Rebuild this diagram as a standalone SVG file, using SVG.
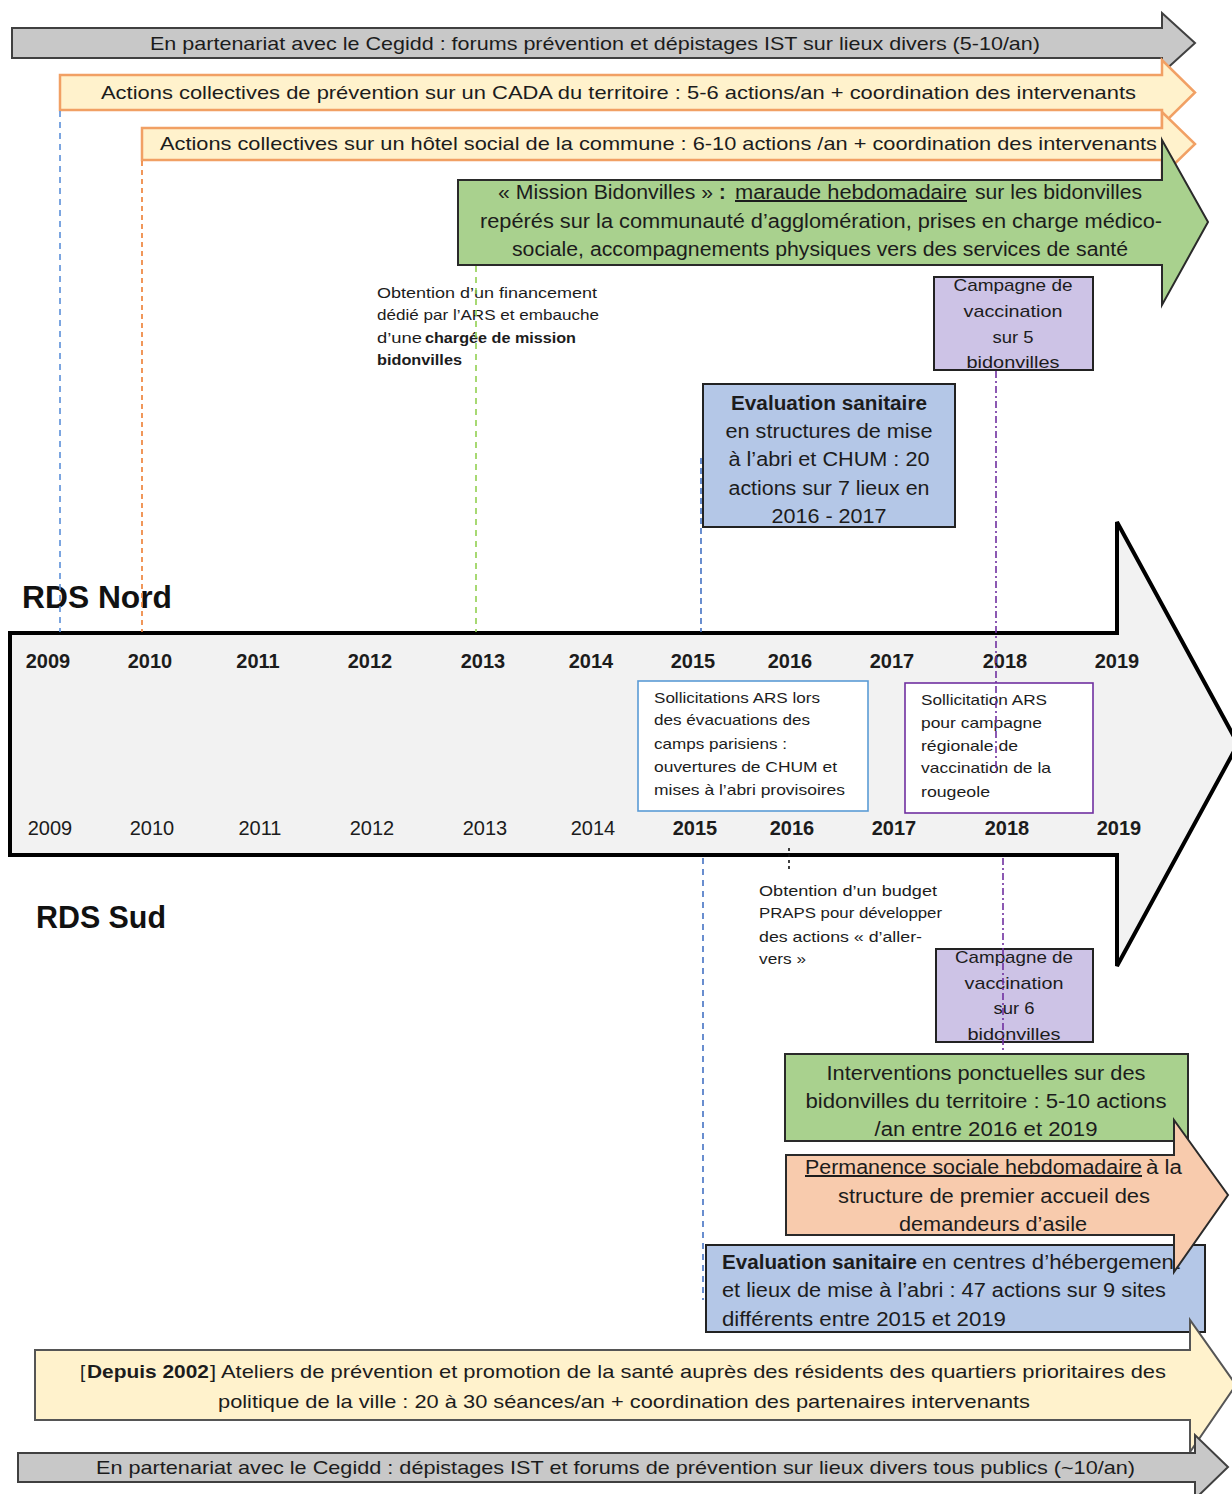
<svg xmlns="http://www.w3.org/2000/svg" width="1232" height="1494" viewBox="0 0 1232 1494">
<style>
text{font-family:"Liberation Sans",Arial,sans-serif;fill:#1c1c1c}
.s19{font-size:19px}
.s20{font-size:20px}
.s17{font-size:17px}
.s15{font-size:15px}
.b{font-weight:bold}
.u{text-decoration:underline}
.big{font-size:31px;font-weight:bold;fill:#111}
.yr{font-size:20px;text-anchor:middle}
.gray{fill:#c8c8c8;stroke:#404040;stroke-width:2}
.cream{fill:#fff2cc;stroke:#f1a064;stroke-width:2.5}
.green{fill:#a9d18e;stroke:#2a2a2a;stroke-width:2}
.purple{fill:#cdc3e6;stroke:#222;stroke-width:2}
.blue{fill:#b4c7e7;stroke:#222;stroke-width:2}
.peach{fill:#f8cbad;stroke:#2a2a2a;stroke-width:2}
.yellow{fill:#fff2cc;stroke:#555;stroke-width:2}
.dl{fill:none;stroke-width:1.6}
</style>

<g id="node-cegidd-nord">
<path class="gray" d="M12,28 H1162 V13 L1195,43 L1162,73 V58 H12 Z"/>
<text class="s19" x="150" y="49.5" textLength="890" lengthAdjust="spacingAndGlyphs">En partenariat avec le Cegidd : forums prévention et dépistages IST sur lieux divers (5-10/an)</text>
</g>

<g id="node-cada">
<path class="cream" d="M60,75 H1162 V60 L1195,92.5 L1162,125 V110 H60 Z"/>
<text class="s19" x="101" y="99" textLength="1035" lengthAdjust="spacingAndGlyphs">Actions collectives de prévention sur un CADA du territoire : 5-6 actions/an + coordination des intervenants</text>
</g>

<g id="node-hotel">
<path class="cream" d="M142,128 H1162 V112 L1195,144 L1162,176 V160 H142 Z"/>
<text class="s19" x="160" y="150" textLength="997" lengthAdjust="spacingAndGlyphs">Actions collectives sur un hôtel social de la commune : 6-10 actions /an + coordination des intervenants</text>
</g>

<g id="node-mission-bidonvilles">
<path class="green" d="M458,180 H1162 V140 L1208,222 L1162,305 V265 H458 Z"/>
<text class="s20" y="199"><tspan x="498" textLength="215" lengthAdjust="spacingAndGlyphs">« Mission Bidonvilles »</tspan><tspan x="719" class="b">:</tspan><tspan x="735" class="u" textLength="232" lengthAdjust="spacingAndGlyphs">maraude hebdomadaire</tspan><tspan x="975" textLength="167" lengthAdjust="spacingAndGlyphs">sur les bidonvilles</tspan></text>
<text class="s20" x="480" y="228" textLength="682" lengthAdjust="spacingAndGlyphs">repérés sur la communauté d’agglomération, prises en charge médico-</text>
<text class="s20" x="512" y="256" textLength="616" lengthAdjust="spacingAndGlyphs">sociale, accompagnements physiques vers des services de santé</text>
</g>

<g id="node-financement-ars">
<text class="s15" x="377" y="298" textLength="220" lengthAdjust="spacingAndGlyphs">Obtention d’un financement</text>
<text class="s15" x="377" y="320" textLength="222" lengthAdjust="spacingAndGlyphs">dédié par l’ARS et embauche</text>
<text class="s15" y="343"><tspan x="377" textLength="45" lengthAdjust="spacingAndGlyphs">d’une</tspan><tspan x="425" class="b" textLength="151" lengthAdjust="spacingAndGlyphs">chargée de mission</tspan></text>
<text class="s15 b" x="377" y="365" textLength="85" lengthAdjust="spacingAndGlyphs">bidonvilles</text>
</g>

<g id="node-vaccination-nord">
<rect class="purple" x="934" y="277" width="159" height="93"/>
<g class="s17" text-anchor="middle">
<text x="1013" y="291" textLength="119" lengthAdjust="spacingAndGlyphs">Campagne de</text>
<text x="1013" y="317" textLength="99" lengthAdjust="spacingAndGlyphs">vaccination</text>
<text x="1013" y="343" textLength="41" lengthAdjust="spacingAndGlyphs">sur 5</text>
<text x="1013" y="368" textLength="93" lengthAdjust="spacingAndGlyphs">bidonvilles</text>
</g>
</g>

<g id="node-evaluation-nord">
<rect class="blue" x="703" y="384" width="252" height="143"/>
<g class="s20" text-anchor="middle">
<text x="829" y="410" class="b" textLength="196" lengthAdjust="spacingAndGlyphs">Evaluation sanitaire</text>
<text x="829" y="438" textLength="207" lengthAdjust="spacingAndGlyphs">en structures de mise</text>
<text x="829" y="466" textLength="201" lengthAdjust="spacingAndGlyphs">à l’abri et CHUM : 20</text>
<text x="829" y="495" textLength="201" lengthAdjust="spacingAndGlyphs">actions sur 7 lieux en</text>
<text x="829" y="523" textLength="115" lengthAdjust="spacingAndGlyphs">2016 - 2017</text>
</g>
</g>

<g id="label-rds-nord">
<text class="big" x="22" y="608" textLength="150" lengthAdjust="spacingAndGlyphs">RDS Nord</text>
</g>

<g id="node-timeline">
<path d="M10,633 H1117 V522 L1238,744 L1117,966 V855 H10 Z" fill="#f2f2f2" stroke="#000" stroke-width="4" stroke-linejoin="miter"/>
<g class="yr b">
<text x="48" y="668">2009</text><text x="150" y="668">2010</text><text x="258" y="668">2011</text><text x="370" y="668">2012</text><text x="483" y="668">2013</text><text x="591" y="668">2014</text><text x="693" y="668">2015</text><text x="790" y="668">2016</text><text x="892" y="668">2017</text><text x="1005" y="668">2018</text><text x="1117" y="668">2019</text>
</g>
<g class="yr">
<text x="50" y="835">2009</text><text x="152" y="835">2010</text><text x="260" y="835">2011</text><text x="372" y="835">2012</text><text x="485" y="835">2013</text><text x="593" y="835">2014</text>
</g>
<g class="yr b">
<text x="695" y="835">2015</text><text x="792" y="835">2016</text><text x="894" y="835">2017</text><text x="1007" y="835">2018</text><text x="1119" y="835">2019</text>
</g>
</g>

<g id="node-sollicitations-camps">
<rect x="638" y="681" width="230" height="130" fill="#fff" stroke="#5b9bd5" stroke-width="1.6"/>
<g class="s15">
<text x="654" y="703" textLength="166" lengthAdjust="spacingAndGlyphs">Sollicitations ARS lors</text>
<text x="654" y="725" textLength="156" lengthAdjust="spacingAndGlyphs">des évacuations des</text>
<text x="654" y="749" textLength="133" lengthAdjust="spacingAndGlyphs">camps parisiens :</text>
<text x="654" y="772" textLength="183" lengthAdjust="spacingAndGlyphs">ouvertures de CHUM et</text>
<text x="654" y="795" textLength="191" lengthAdjust="spacingAndGlyphs">mises à l’abri provisoires</text>
</g>
</g>

<g id="node-sollicitation-rougeole">
<rect x="905" y="683" width="188" height="130" fill="#fff" stroke="#7030a0" stroke-width="1.6"/>
<g class="s15">
<text x="921" y="705" textLength="126" lengthAdjust="spacingAndGlyphs">Sollicitation ARS</text>
<text x="921" y="728" textLength="121" lengthAdjust="spacingAndGlyphs">pour campagne</text>
<text x="921" y="751" textLength="97" lengthAdjust="spacingAndGlyphs">régionale de</text>
<text x="921" y="773" textLength="130" lengthAdjust="spacingAndGlyphs">vaccination de la</text>
<text x="921" y="797" textLength="69" lengthAdjust="spacingAndGlyphs">rougeole</text>
</g>
</g>

<g id="label-rds-sud">
<text class="big" x="36" y="928" textLength="130" lengthAdjust="spacingAndGlyphs">RDS Sud</text>
</g>

<g id="node-budget-praps">
<g class="s15">
<text x="759" y="896" textLength="178" lengthAdjust="spacingAndGlyphs">Obtention d’un budget</text>
<text x="759" y="918" textLength="183" lengthAdjust="spacingAndGlyphs">PRAPS pour développer</text>
<text x="759" y="942" textLength="163" lengthAdjust="spacingAndGlyphs">des actions « d’aller-</text>
<text x="759" y="964" textLength="47" lengthAdjust="spacingAndGlyphs">vers »</text>
</g>
</g>

<g id="node-vaccination-sud">
<rect class="purple" x="936" y="949" width="157" height="93"/>
<g class="s17" text-anchor="middle">
<text x="1014" y="963" textLength="118" lengthAdjust="spacingAndGlyphs">Campagne de</text>
<text x="1014" y="989" textLength="99" lengthAdjust="spacingAndGlyphs">vaccination</text>
<text x="1014" y="1014" textLength="41" lengthAdjust="spacingAndGlyphs">sur 6</text>
<text x="1014" y="1040" textLength="93" lengthAdjust="spacingAndGlyphs">bidonvilles</text>
</g>
</g>

<g id="node-interventions">
<rect class="green" x="785" y="1054" width="403" height="87"/>
<g class="s20" text-anchor="middle">
<text x="986" y="1080" textLength="319" lengthAdjust="spacingAndGlyphs">Interventions ponctuelles sur des</text>
<text x="986" y="1108" textLength="361" lengthAdjust="spacingAndGlyphs">bidonvilles du territoire : 5-10 actions</text>
<text x="986" y="1136" textLength="223" lengthAdjust="spacingAndGlyphs">/an entre 2016 et 2019</text>
</g>
</g>

<g id="node-evaluation-sud">
<rect class="blue" x="706" y="1245" width="499" height="87"/>
<text class="s20" y="1269"><tspan x="722" class="b" textLength="195" lengthAdjust="spacingAndGlyphs">Evaluation sanitaire</tspan><tspan x="922" textLength="258" lengthAdjust="spacingAndGlyphs">en centres d’hébergement</tspan></text>
<text class="s20" x="722" y="1297" textLength="444" lengthAdjust="spacingAndGlyphs">et lieux de mise à l’abri  : 47 actions sur 9 sites</text>
<text class="s20" x="722" y="1326" textLength="284" lengthAdjust="spacingAndGlyphs">différents entre 2015 et 2019</text>
</g>

<g id="node-permanence">
<path class="peach" d="M786,1155 H1174 V1120 L1228,1195 L1174,1272 V1235 H786 Z"/>
<text class="s20" y="1174"><tspan x="805" class="u" textLength="337" lengthAdjust="spacingAndGlyphs">Permanence sociale hebdomadaire</tspan><tspan x="1146" textLength="36" lengthAdjust="spacingAndGlyphs">à la</tspan></text>
<text class="s20" x="838" y="1203" textLength="312" lengthAdjust="spacingAndGlyphs">structure de premier accueil des</text>
<text class="s20" x="899" y="1231" textLength="188" lengthAdjust="spacingAndGlyphs">demandeurs d’asile</text>
</g>

<g id="node-ateliers">
<path class="yellow" d="M35,1350 H1190 V1320 L1236,1385 L1190,1452 V1420 H35 Z"/>
<text class="s19" y="1378"><tspan x="80">[</tspan><tspan x="87" class="b" textLength="122" lengthAdjust="spacingAndGlyphs">Depuis 2002</tspan><tspan x="210" textLength="956" lengthAdjust="spacingAndGlyphs">] Ateliers de prévention et promotion de la santé auprès des résidents des quartiers prioritaires des</tspan></text>
<text class="s19" x="218" y="1408" textLength="812" lengthAdjust="spacingAndGlyphs">politique de la ville : 20 à 30 séances/an + coordination des partenaires intervenants</text>
</g>

<g id="node-cegidd-sud">
<path class="gray" d="M18,1453 H1195 V1435 L1228,1467 L1195,1499 V1482 H18 Z"/>
<text class="s19" x="96" y="1474" textLength="1039" lengthAdjust="spacingAndGlyphs">En partenariat avec le Cegidd  : dépistages IST et forums de prévention sur lieux divers tous publics (~10/an)</text>
</g>

<g id="connectors">
<line class="dl" x1="60" y1="111" x2="60" y2="632" stroke="#5b8fd9" stroke-dasharray="6,5"/>
<line class="dl" x1="142" y1="161" x2="142" y2="632" stroke="#ed7d31" stroke-dasharray="5,4"/>
<line class="dl" x1="476" y1="266" x2="476" y2="632" stroke="#92d050" stroke-dasharray="6,5"/>
<line class="dl" x1="701" y1="458" x2="701" y2="632" stroke="#4472c4" stroke-dasharray="6,4"/>
<line class="dl" x1="996" y1="371" x2="996" y2="775" stroke="#7030a0" stroke-dasharray="7,3,2,3"/>
<line class="dl" x1="789" y1="848" x2="789" y2="872" stroke="#111" stroke-dasharray="3,3"/>
<line class="dl" x1="703" y1="858" x2="703" y2="1300" stroke="#4472c4" stroke-dasharray="6,5"/>
<line class="dl" x1="1003" y1="858" x2="1003" y2="1052" stroke="#7030a0" stroke-dasharray="7,3,2,3"/>
</g>
</svg>
